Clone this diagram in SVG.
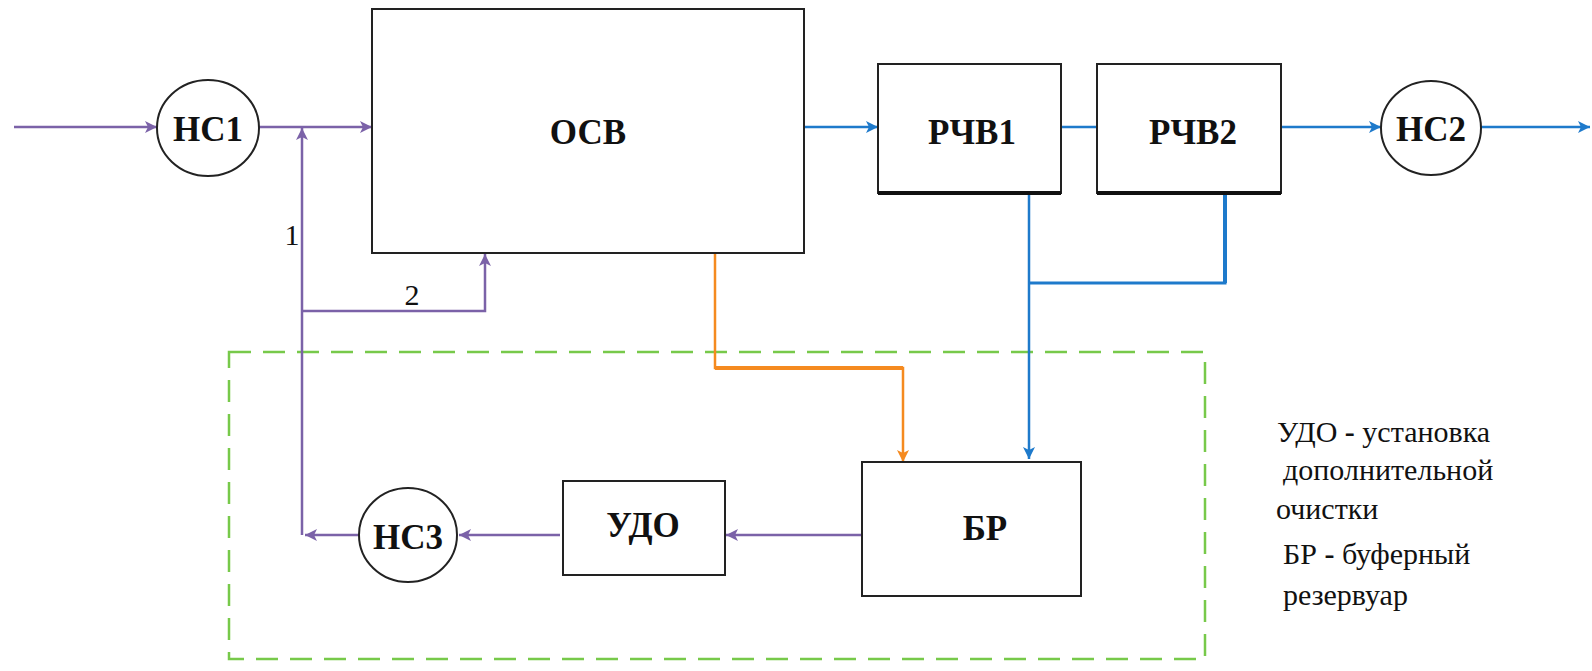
<svg xmlns="http://www.w3.org/2000/svg" width="1592" height="671" viewBox="0 0 1592 671">
<defs>
<marker id="ap" viewBox="0 0 12 12" refX="12" refY="6" markerWidth="12" markerHeight="12" orient="auto" markerUnits="userSpaceOnUse"><path d="M0,0 L12,6 L0,12 L3,6 z" fill="#7b62a8"/></marker>
<marker id="ab" viewBox="0 0 12 12" refX="12" refY="6" markerWidth="12" markerHeight="12" orient="auto" markerUnits="userSpaceOnUse"><path d="M0,0 L12,6 L0,12 L3,6 z" fill="#1e7acb"/></marker>
<marker id="ao" viewBox="0 0 12 12" refX="12" refY="6" markerWidth="12" markerHeight="12" orient="auto" markerUnits="userSpaceOnUse"><path d="M0,0 L12,6 L0,12 L3,6 z" fill="#f58a1f"/></marker>
</defs>
<rect x="229" y="352" width="976" height="307" fill="none" stroke="#77c94a" stroke-width="2.5" stroke-dasharray="22,12"/>
<g id="connectors" fill="none" stroke-width="2.5">
<g stroke="#7b62a8">
<line x1="14" y1="127" x2="157" y2="127" marker-end="url(#ap)"/>
<line x1="259" y1="127" x2="372" y2="127" marker-end="url(#ap)"/>
<line x1="302" y1="535" x2="302" y2="128" marker-end="url(#ap)"/>
<polyline points="302,311 485,311 485,254" marker-end="url(#ap)"/>
<line x1="862" y1="535" x2="726" y2="535" marker-end="url(#ap)"/>
<line x1="560" y1="535" x2="459" y2="535" marker-end="url(#ap)"/>
<line x1="359" y1="535" x2="305" y2="535" marker-end="url(#ap)"/>
</g>
<g stroke="#1e7acb">
<line x1="804" y1="127" x2="878" y2="127" marker-end="url(#ab)"/>
<line x1="1061" y1="127" x2="1097" y2="127"/>
<line x1="1281" y1="127" x2="1381" y2="127" marker-end="url(#ab)"/>
<line x1="1481" y1="127" x2="1590" y2="127" marker-end="url(#ab)"/>
<line x1="1029" y1="193" x2="1029" y2="459" marker-end="url(#ab)"/>
<polyline points="1225,193 1225,283 1029,283" stroke-width="3"/>
<line x1="1225" y1="193" x2="1225" y2="283" stroke-width="4"/>
</g>
<g stroke="#f58a1f">
<polyline points="715,253 715,368 903,368 903,462" marker-end="url(#ao)"/>
<line x1="715" y1="368" x2="903" y2="368" stroke-width="4"/>
</g>
</g>
<g fill="#fff" stroke="#222" stroke-width="2">
<g id="hc1"><ellipse cx="208" cy="128" rx="51" ry="48"/><text x="208" y="141" stroke="none" fill="#111" text-anchor="middle" style="font-family:'Liberation Serif',serif;font-weight:bold;font-size:35px">НС1</text></g>
<g id="osv"><rect x="372" y="9" width="432" height="244"/><text x="588" y="144" stroke="none" fill="#111" text-anchor="middle" style="font-family:'Liberation Serif',serif;font-weight:bold;font-size:35px">ОСВ</text></g>
<g id="rchv1"><rect x="878" y="64" width="183" height="129"/><line x1="878" y1="193" x2="1061" y2="193" stroke="#111" stroke-width="4"/><text x="972" y="144" stroke="none" fill="#111" text-anchor="middle" style="font-family:'Liberation Serif',serif;font-weight:bold;font-size:35px">РЧВ1</text></g>
<g id="rchv2"><rect x="1097" y="64" width="184" height="129"/><line x1="1097" y1="193" x2="1281" y2="193" stroke="#111" stroke-width="4"/><text x="1193" y="144" stroke="none" fill="#111" text-anchor="middle" style="font-family:'Liberation Serif',serif;font-weight:bold;font-size:35px">РЧВ2</text></g>
<g id="hc2"><ellipse cx="1431" cy="128" rx="50" ry="47"/><text x="1431" y="141" stroke="none" fill="#111" text-anchor="middle" style="font-family:'Liberation Serif',serif;font-weight:bold;font-size:35px">НС2</text></g>
<g id="br"><rect x="862" y="462" width="219" height="134"/><text x="985" y="540" stroke="none" fill="#111" text-anchor="middle" style="font-family:'Liberation Serif',serif;font-weight:bold;font-size:35px">БР</text></g>
<g id="udo"><rect x="563" y="481" width="162" height="94"/><text x="643" y="537" stroke="none" fill="#111" text-anchor="middle" style="font-family:'Liberation Serif',serif;font-weight:bold;font-size:35px">УДО</text></g>
<g id="hc3"><ellipse cx="408" cy="535" rx="49" ry="47"/><text x="408" y="549" stroke="none" fill="#111" text-anchor="middle" style="font-family:'Liberation Serif',serif;font-weight:bold;font-size:35px">НС3</text></g>
</g>
<text x="292" y="245" fill="#111" text-anchor="middle" style="font-family:'Liberation Serif',serif;font-size:30px">1</text>
<text x="412" y="305" fill="#111" text-anchor="middle" style="font-family:'Liberation Serif',serif;font-size:30px">2</text>
<g id="legend" fill="#111">
<text x="1277" y="442" style="font-family:'Liberation Serif',serif;font-size:30px">УДО <tspan font-weight="bold">-</tspan> установка</text>
<text x="1283" y="480" style="font-family:'Liberation Serif',serif;font-size:30px">дополнительной</text>
<text x="1276" y="519" style="font-family:'Liberation Serif',serif;font-size:30px">очистки</text>
<text x="1283" y="564" style="font-family:'Liberation Serif',serif;font-size:30px">БР <tspan font-weight="bold">-</tspan> буферный</text>
<text x="1283" y="605" style="font-family:'Liberation Serif',serif;font-size:30px">резервуар</text>
</g>
</svg>
